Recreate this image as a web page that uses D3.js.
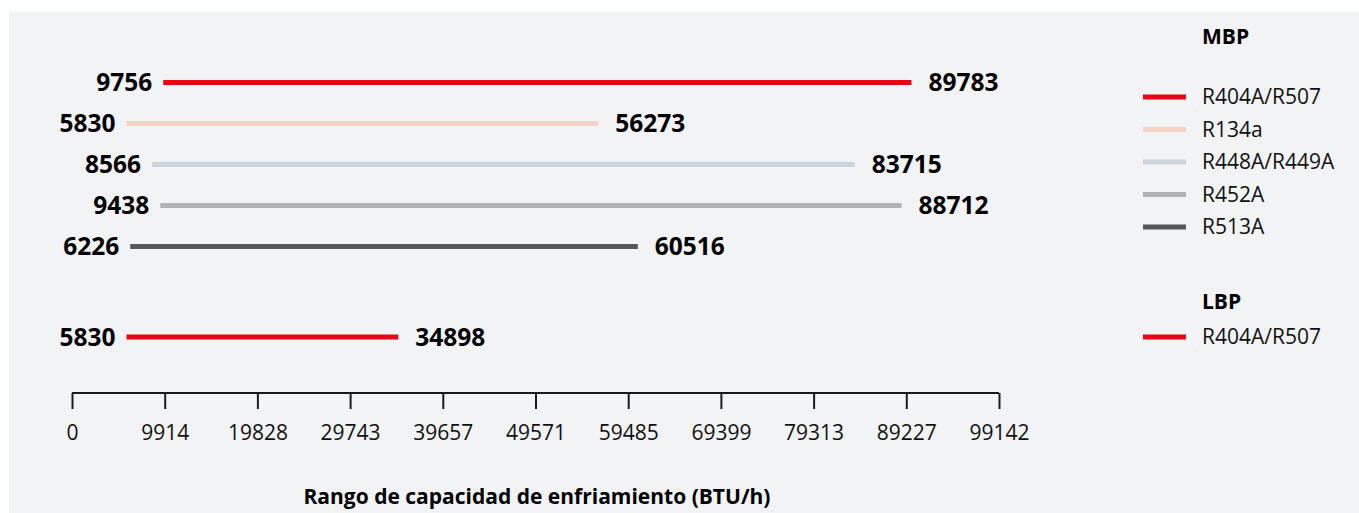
<!DOCTYPE html>
<html><head><meta charset="utf-8">
<script src="https://cdn.jsdelivr.net/npm/d3@7"></script>
<style>
html,body{margin:0;padding:0;background:#fff;}
svg{display:block;}
text{font-family:"Open Sans","Noto Sans",sans-serif;}
</style></head>
<body>
<svg id="chart" width="1359" height="513"></svg>
<script>
// ---- data ----
const groups = ["MBP", "LBP"];
const refrigerants = ["R404A/R507", "R134a", "R448A/R449A", "R452A", "R513A", "R404A/R507"];
const rowGroup = ["MBP", "MBP", "MBP", "MBP", "MBP", "LBP"];
const minCapacity = [9756, 5830, 8566, 9438, 6226, 5830];
const maxCapacity = [89783, 56273, 83715, 88712, 60516, 34898];
const seriesColors = ["#e30613", "#f2d3c5", "#cdd5dc", "#b2b2b2", "#575757", "#e30613"];
const tickValues = [0, 9914, 19828, 29743, 39657, 49571, 59485, 69399, 79313, 89227, 99142];
const axisTitle = "Rango de capacidad de enfriamiento (BTU/h)";

const svg = d3.select("#chart");
svg.append("rect").attr("x", 9).attr("y", 11).attr("width", 1350).attr("height", 502).attr("fill", "#f2f3f5");

const x = d3.scaleLinear().domain([0, 99142]).range([72, 999]);
const mbpIdx = d3.range(rowGroup.length).filter(i => rowGroup[i] === "MBP");
const yMBP = d3.scalePoint().domain(mbpIdx).range([82.5, 246.5]);
const lbpY = 337;
const yOf = i => rowGroup[i] === "MBP" ? yMBP(i) : lbpY;

const rows = d3.range(refrigerants.length).map(i => ({
  name: refrigerants[i], group: rowGroup[i], lo: minCapacity[i], hi: maxCapacity[i], color: seriesColors[i], y: yOf(i)
}));

const g = svg.append("g");
g.selectAll("line.bar").data(rows).join("line")
  .attr("class", "bar")
  .attr("x1", d => x(d.lo)).attr("x2", d => x(d.hi))
  .attr("y1", d => d.y).attr("y2", d => d.y)
  .attr("stroke", d => d.color).attr("stroke-width", 5);

g.selectAll("text.lo").data(rows).join("text")
  .attr("class", "lo")
  .attr("x", d => x(d.lo) - 11).attr("y", d => d.y)
  .attr("dy", "0.36em").attr("text-anchor", "end")
  .attr("font-size", 24.5).attr("font-weight", 700).attr("fill", "#000")
  .text(d => d.lo);

g.selectAll("text.hi").data(rows).join("text")
  .attr("class", "hi")
  .attr("x", d => x(d.hi) + 17).attr("y", d => d.y)
  .attr("dy", "0.36em").attr("text-anchor", "start")
  .attr("font-size", 24.5).attr("font-weight", 700).attr("fill", "#000")
  .text(d => d.hi);

// axis
const axis = d3.axisBottom(x).tickValues(tickValues).tickSize(16).tickPadding(16).tickFormat(d => d);
const ag = svg.append("g").attr("transform", "translate(0,393)").call(axis);
ag.select(".domain").attr("d", `M${x(0)},0H${x(99142)}`).attr("stroke", "#1a1a1a").attr("stroke-width", 2);
ag.selectAll(".tick line").attr("stroke", "#1a1a1a").attr("stroke-width", 2);
ag.selectAll(".tick text").attr("font-size", 21).attr("font-family", "'Open Sans',sans-serif").attr("fill", "#111");

svg.append("text").attr("x", 537).attr("y", 497).attr("dy", "0.35em")
  .attr("text-anchor", "middle").attr("font-size", 21).attr("font-weight", 700).attr("fill", "#000")
  .text(axisTitle);

// legend
const legendTitleY = { MBP: 37, LBP: 302 };
const lg = svg.append("g");
groups.forEach(gr => {
  lg.append("text").attr("x", 1202).attr("y", legendTitleY[gr]).attr("dy", "0.35em")
    .attr("font-size", 21).attr("font-weight", 700).attr("fill", "#000").text(gr);
});
const mbpRows = rows.filter(d => d.group === "MBP");
const lbpRows = rows.filter(d => d.group === "LBP");
const legendY = d3.scalePoint().domain(d3.range(mbpRows.length)).range([97, 227]);
const legendItems = mbpRows.map((d, i) => ({ ...d, ly: legendY(i) }))
  .concat(lbpRows.map(d => ({ ...d, ly: 337 })));
const li = lg.selectAll("g.item").data(legendItems).join("g").attr("class", "item")
  .attr("transform", d => `translate(0,${d.ly})`);
li.append("line").attr("x1", 1143).attr("x2", 1186).attr("stroke", d => d.color).attr("stroke-width", 5);
li.append("text").attr("x", 1202).attr("dy", "0.35em").attr("font-size", 21).attr("fill", "#111").text(d => d.name);
</script>
</body></html>
